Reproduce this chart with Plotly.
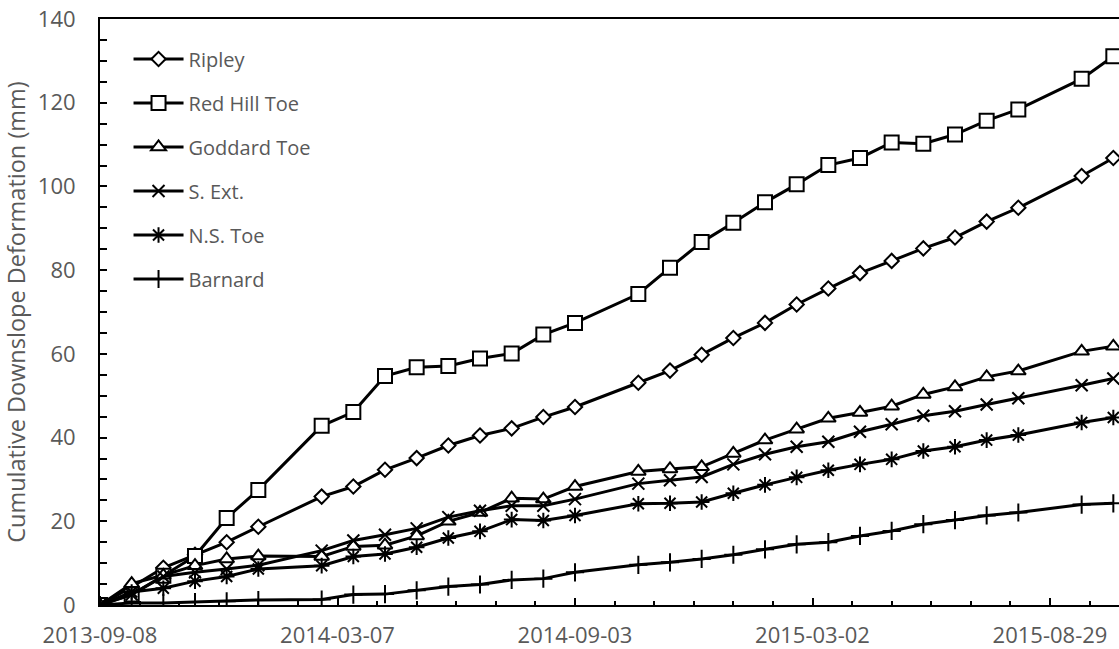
import pandas as pd
import plotly.graph_objects as go

# Survey dates (24-day repeat, a few acquisitions missing)
dates = [
    "2013-09-08", "2013-10-02", "2013-10-26", "2013-11-19", "2013-12-13",
    "2014-01-06", "2014-02-23", "2014-03-19", "2014-04-12", "2014-05-06",
    "2014-05-30", "2014-06-23", "2014-07-17", "2014-08-10", "2014-09-03",
    "2014-10-21", "2014-11-14", "2014-12-08", "2015-01-01", "2015-01-25",
    "2015-02-18", "2015-03-14", "2015-04-07", "2015-05-01", "2015-05-25",
    "2015-06-18", "2015-07-12", "2015-08-05", "2015-09-22", "2015-10-16",
]

# Cumulative downslope deformation (mm) per site
ripley = [0, 4.3, 8.9, 12.0, 15.0, 18.7, 25.9, 28.3, 32.3, 35.1,
          38.1, 40.5, 42.2, 44.9, 47.3, 53.1, 56.0, 59.8, 63.8, 67.4,
          71.8, 75.6, 79.3, 82.2, 85.2, 87.8, 91.6, 94.9, 102.5, 106.8]
red_hill_toe = [0, 2.5, 7.0, 11.7, 20.8, 27.5, 42.8, 46.1, 54.7, 56.8,
                57.1, 58.9, 60.1, 64.6, 67.4, 74.3, 80.6, 86.7, 91.3, 96.2,
                100.5, 105.1, 106.8, 110.5, 110.2, 112.4, 115.7, 118.4, 125.7, 131.1]
goddard_toe = [0, 5.1, 7.1, 9.4, 11.0, 11.7, 11.6, 14.0, 14.3, 16.5,
               20.0, 22.1, 25.5, 25.3, 28.3, 31.9, 32.5, 33.0, 36.2, 39.4,
               42.0, 44.6, 46.0, 47.5, 50.3, 52.1, 54.5, 55.9, 60.6, 61.8]
s_ext = [0, 2.5, 6.8, 7.8, 8.6, 9.5, 13.0, 15.4, 16.8, 18.3,
         21.0, 22.5, 23.7, 23.7, 25.3, 29.0, 29.8, 30.6, 33.6, 36.0,
         37.8, 39.0, 41.4, 43.2, 45.2, 46.3, 47.9, 49.4, 52.5, 54.1]
ns_toe = [0, 3.1, 4.0, 5.7, 6.8, 8.6, 9.4, 11.6, 12.2, 13.8,
          16.0, 17.6, 20.4, 20.2, 21.4, 24.2, 24.3, 24.6, 26.7, 28.7,
          30.5, 32.2, 33.6, 34.8, 36.8, 37.8, 39.4, 40.6, 43.6, 44.8]
barnard = [0, 0.5, 0.5, 0.7, 0.9, 1.2, 1.3, 2.5, 2.6, 3.5,
           4.4, 4.9, 6.0, 6.3, 7.8, 9.6, 10.2, 11.0, 12.0, 13.3,
           14.5, 15.0, 16.5, 17.7, 19.3, 20.3, 21.4, 22.1, 24.0, 24.3]

series = [
    ("Ripley", ripley, "diamond", 11),
    ("Red Hill Toe", red_hill_toe, "square", 14),
    ("Goddard Toe", goddard_toe, "triangle-up", 13),
    ("S. Ext.", s_ext, "x-thin", 12),
    ("N.S. Toe", ns_toe, "asterisk", 13),
    ("Barnard", barnard, "cross-thin", 13),
]

x = pd.to_datetime(dates)
fig = go.Figure()
for name, vals, sym, size in series:
    fig.add_trace(go.Scatter(
        x=x, y=vals, name=name, legendgroup=name, mode="lines+markers",
        line=dict(color="black", width=3),
        marker=dict(symbol=sym, size=size, color="white",
                    line=dict(color="black", width=2)),
    ))

gray = "#595959"
font_family = "Open Sans, Noto Sans, sans-serif"
start = pd.Timestamp("2013-09-08")
end = start + pd.Timedelta(days=772.3)
day_ms = 86400000

fig.update_layout(
    width=1119, height=649,
    margin=dict(l=100, r=0, t=19, b=41),
    plot_bgcolor="white", paper_bgcolor="white",
    font=dict(family=font_family, color=gray, size=20),
    showlegend=True,
    legend=dict(
        x=0.028, y=0.965, xanchor="left", yanchor="top",
        bgcolor="rgba(0,0,0,0)", font=dict(size=20, color=gray),
        tracegroupgap=15, itemwidth=50,
    ),
    xaxis=dict(
        range=[start, end], type="date",
        tick0="2013-09-08", dtick=180 * day_ms, tickformat="%Y-%m-%d",
        ticks="inside", ticklen=7, tickwidth=2, tickcolor="black",
        ticklabelstandoff=10,
        minor=dict(dtick=30 * day_ms, tick0="2013-09-08", ticks="inside",
                   ticklen=4, tickwidth=2, tickcolor="black"),
        showline=True, linecolor="black", linewidth=2, mirror=True,
        showgrid=False, zeroline=False,
        tickfont=dict(size=22, color=gray),
    ),
    yaxis=dict(
        range=[0, 140], dtick=20,
        ticks="inside", ticklen=7, tickwidth=2, tickcolor="black",
        ticklabelstandoff=18,
        minor=dict(dtick=5, ticks="inside", ticklen=7, tickwidth=2,
                   tickcolor="black"),
        showline=True, linecolor="black", linewidth=2, mirror=False,
        showgrid=False, zeroline=False,
        tickfont=dict(size=22, color=gray),
        title=dict(text="Cumulative Downslope Deformation (mm)",
                   font=dict(size=23.5, color=gray), standoff=8),
    ),
)

fig.write_html("out.html")
